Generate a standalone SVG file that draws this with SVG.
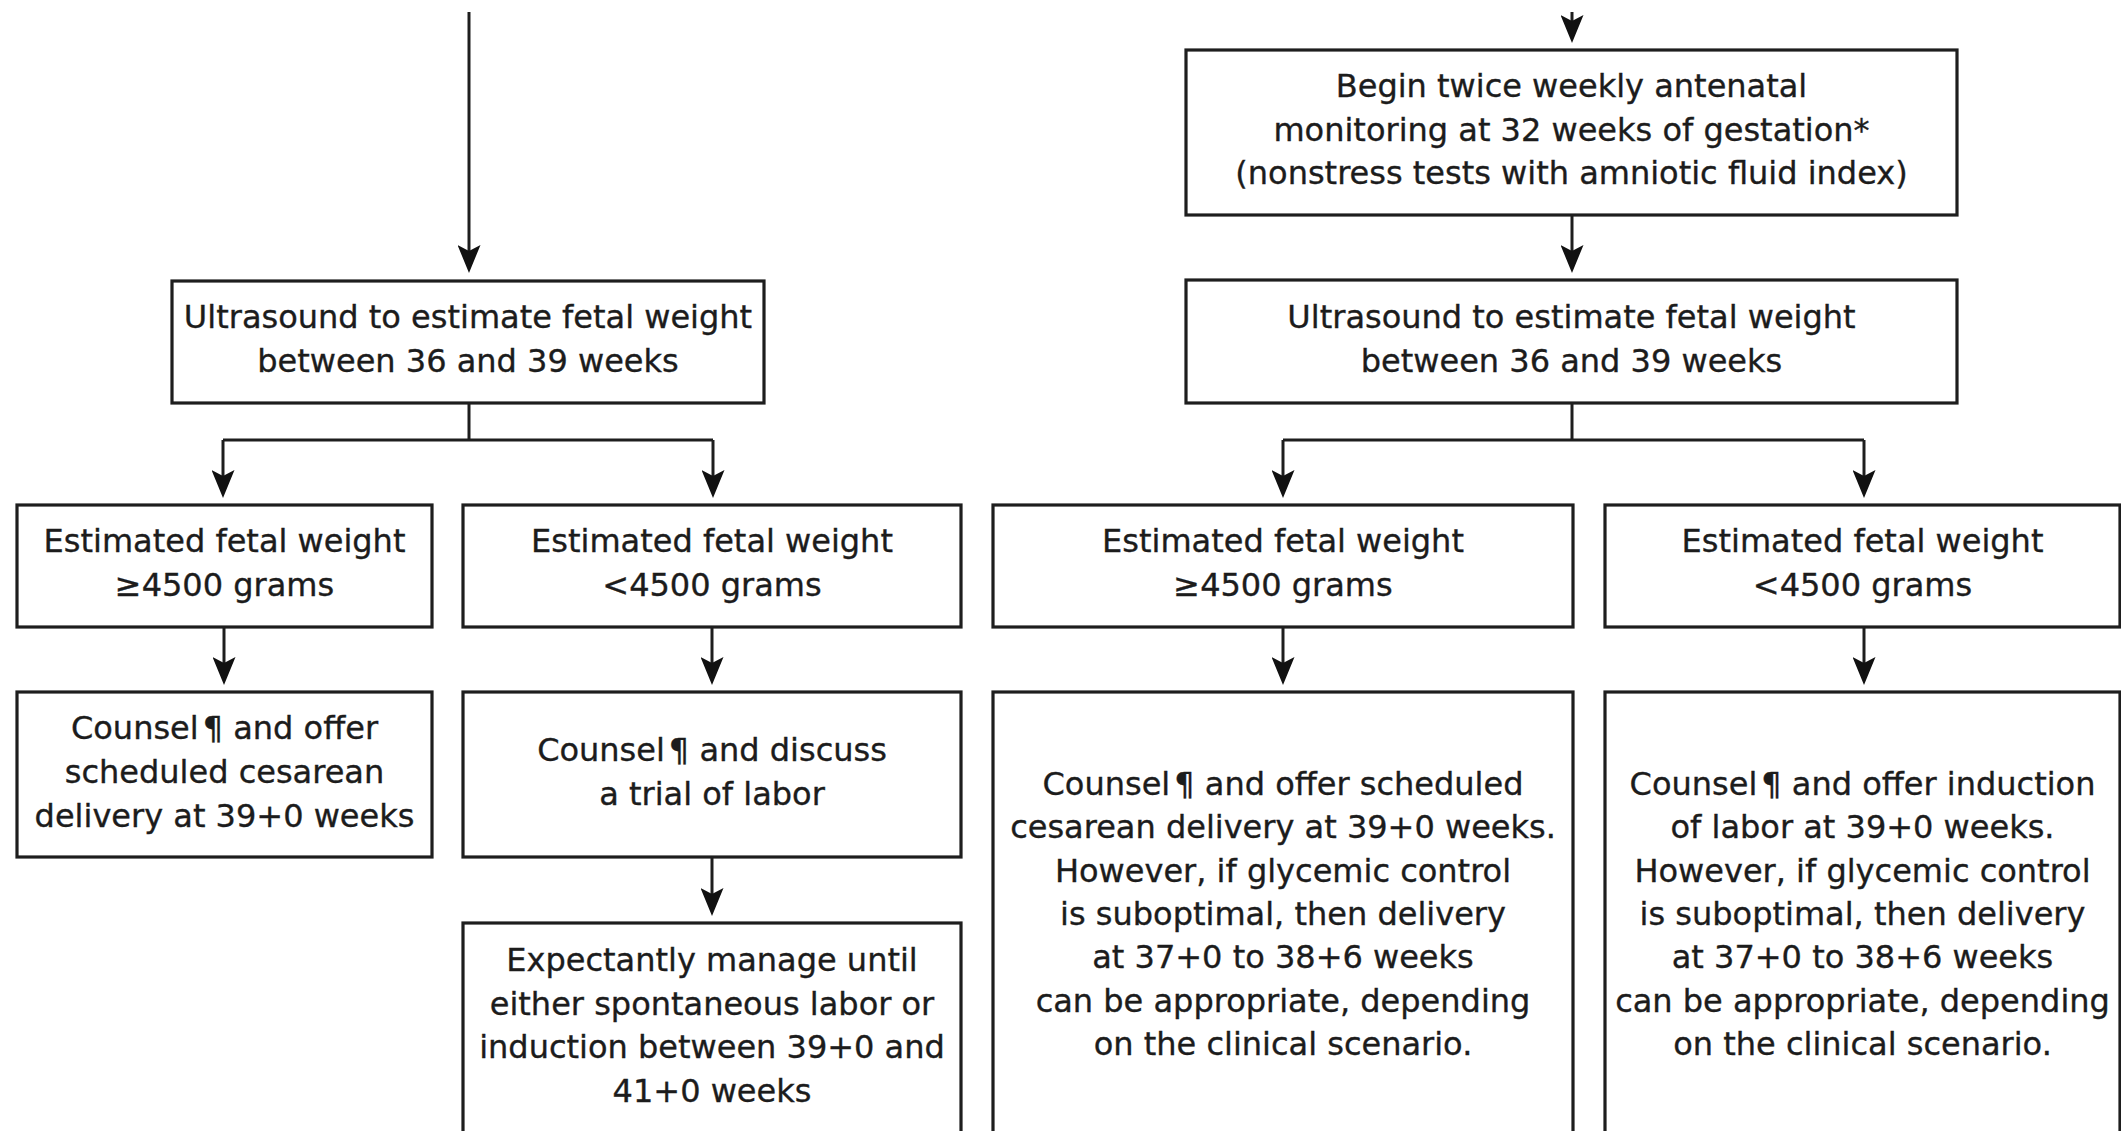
<svg xmlns="http://www.w3.org/2000/svg" width="2121" height="1131" viewBox="0 0 2121 1131">
<style>
.box{fill:#fff;stroke:#1e1e1e;stroke-width:3.2}
.con{fill:none;stroke:#1e1e1e;stroke-width:3}
text{font-family:"DejaVu Sans","Verdana",sans-serif;font-size:32px;fill:#1c1c1c;stroke:#1c1c1c;stroke-width:0.35;text-anchor:middle}
</style>
<defs>
<marker id="ah" viewBox="0 0 28 23" refX="18" refY="11.5" markerWidth="28" markerHeight="23" markerUnits="userSpaceOnUse" orient="auto">
<path d="M0,0 L28,11.5 L0,23 L6,11.5 Z" fill="#111"/>
</marker>
</defs>
<rect width="2121" height="1131" fill="#fff"/>
<g id="connectors">
<path class="con" d="M469,12 V263" marker-end="url(#ah)"/>
<path class="con" d="M1572,12 V33" marker-end="url(#ah)"/>
<path class="con" d="M469,403 V440 M223,440 H713"/>
<path class="con" d="M223,440 V488" marker-end="url(#ah)"/>
<path class="con" d="M713,440 V488" marker-end="url(#ah)"/>
<path class="con" d="M224,627 V675" marker-end="url(#ah)"/>
<path class="con" d="M712,627 V675" marker-end="url(#ah)"/>
<path class="con" d="M712,857 V906" marker-end="url(#ah)"/>
<path class="con" d="M1572,215 V263" marker-end="url(#ah)"/>
<path class="con" d="M1572,403 V440 M1283,440 H1864"/>
<path class="con" d="M1283,440 V488" marker-end="url(#ah)"/>
<path class="con" d="M1864,440 V488" marker-end="url(#ah)"/>
<path class="con" d="M1283,627 V675" marker-end="url(#ah)"/>
<path class="con" d="M1864,627 V675" marker-end="url(#ah)"/>
</g>
<g id="us-left">
<rect class="box" x="172" y="281" width="592" height="122"/>
<text x="468" y="328">Ultrasound to estimate fetal weight</text>
<text x="468" y="372">between 36 and 39 weeks</text>
</g>
<g id="efw-ge-left">
<rect class="box" x="17" y="505" width="415" height="122"/>
<text x="224.5" y="552">Estimated fetal weight</text>
<text x="224.5" y="596">≥4500 grams</text>
</g>
<g id="efw-lt-left">
<rect class="box" x="463" y="505" width="498" height="122"/>
<text x="712" y="552">Estimated fetal weight</text>
<text x="712" y="596">&lt;4500 grams</text>
</g>
<g id="counsel-cesarean">
<rect class="box" x="17" y="692" width="415" height="165"/>
<text x="224.5" y="739">Counsel<tspan dx="4">¶</tspan> and offer</text>
<text x="224.5" y="783">scheduled cesarean</text>
<text x="224.5" y="827">delivery at 39+0 weeks</text>
</g>
<g id="counsel-trial">
<rect class="box" x="463" y="692" width="498" height="165"/>
<text x="712" y="761">Counsel<tspan dx="4">¶</tspan> and discuss</text>
<text x="712" y="805">a trial of labor</text>
</g>
<g id="expectant">
<rect class="box" x="463" y="923" width="498" height="230"/>
<text x="712" y="971">Expectantly manage until</text>
<text x="712" y="1014.5">either spontaneous labor or</text>
<text x="712" y="1058">induction between 39+0 and</text>
<text x="712" y="1101.5">41+0 weeks</text>
</g>
<g id="monitoring">
<rect class="box" x="1186" y="50" width="771" height="165"/>
<text x="1571.5" y="97">Begin twice weekly antenatal</text>
<text x="1571.5" y="140.5">monitoring at 32 weeks of gestation*</text>
<text x="1571.5" y="184">(nonstress tests with amniotic fluid index)</text>
</g>
<g id="us-right">
<rect class="box" x="1186" y="280" width="771" height="123"/>
<text x="1571.5" y="327.5">Ultrasound to estimate fetal weight</text>
<text x="1571.5" y="371.5">between 36 and 39 weeks</text>
</g>
<g id="efw-ge-right">
<rect class="box" x="993" y="505" width="580" height="122"/>
<text x="1283" y="552">Estimated fetal weight</text>
<text x="1283" y="596">≥4500 grams</text>
</g>
<g id="efw-lt-right">
<rect class="box" x="1605" y="505" width="515" height="122"/>
<text x="1862.5" y="552">Estimated fetal weight</text>
<text x="1862.5" y="596">&lt;4500 grams</text>
</g>
<g id="counsel-cesarean-right">
<rect class="box" x="993" y="692" width="580" height="460"/>
<text x="1283" y="795">Counsel<tspan dx="4">¶</tspan> and offer scheduled</text>
<text x="1283" y="838.3">cesarean delivery at 39+0 weeks.</text>
<text x="1283" y="881.6">However, if glycemic control</text>
<text x="1283" y="925">is suboptimal, then delivery</text>
<text x="1283" y="968.2">at 37+0 to 38+6 weeks</text>
<text x="1283" y="1011.5">can be appropriate, depending</text>
<text x="1283" y="1054.8">on the clinical scenario.</text>
</g>
<g id="counsel-induction-right">
<rect class="box" x="1605" y="692" width="515" height="460"/>
<text x="1862.5" y="795">Counsel<tspan dx="4">¶</tspan> and offer induction</text>
<text x="1862.5" y="838.3">of labor at 39+0 weeks.</text>
<text x="1862.5" y="881.6">However, if glycemic control</text>
<text x="1862.5" y="925">is suboptimal, then delivery</text>
<text x="1862.5" y="968.2">at 37+0 to 38+6 weeks</text>
<text x="1862.5" y="1011.5">can be appropriate, depending</text>
<text x="1862.5" y="1054.8">on the clinical scenario.</text>
</g>
</svg>
